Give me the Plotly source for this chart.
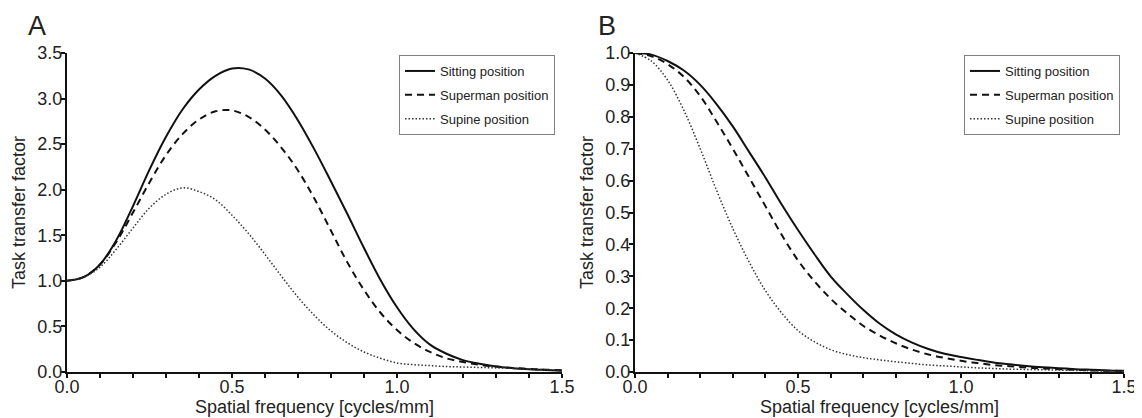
import plotly.graph_objects as go

# ---- data ----
freq = [0.00, 0.05, 0.10, 0.15, 0.20, 0.25, 0.30, 0.35, 0.40, 0.45,
        0.50, 0.55, 0.60, 0.65, 0.70, 0.75, 0.80, 0.85, 0.90, 0.95,
        1.00, 1.05, 1.10, 1.15, 1.20, 1.25, 1.30, 1.35, 1.40, 1.45, 1.50]

series_names = ["Sitting position", "Superman position", "Supine position"]

# Panel A
a_sitting = [1.00, 1.04, 1.18, 1.45, 1.82, 2.22, 2.58, 2.88, 3.10, 3.25,
             3.33, 3.32, 3.22, 3.03, 2.76, 2.44, 2.09, 1.73, 1.36, 1.01,
             0.71, 0.47, 0.30, 0.20, 0.13, 0.09, 0.06, 0.042, 0.03, 0.022, 0.015]
a_superman = [1.00, 1.04, 1.18, 1.43, 1.75, 2.08, 2.38, 2.61, 2.77, 2.86,
              2.87, 2.80, 2.66, 2.46, 2.21, 1.90, 1.55, 1.20, 0.90, 0.65,
              0.46, 0.32, 0.22, 0.15, 0.11, 0.08, 0.06, 0.045, 0.035, 0.025, 0.02]
a_supine = [1.00, 1.04, 1.15, 1.35, 1.58, 1.80, 1.95, 2.02, 1.98, 1.89,
            1.72, 1.52, 1.29, 1.05, 0.82, 0.62, 0.45, 0.32, 0.22, 0.15,
            0.10, 0.08, 0.07, 0.06, 0.055, 0.05, 0.045, 0.04, 0.03, 0.025, 0.02]

# Panel B
b_sitting = [1.00, 0.995, 0.975, 0.945, 0.90, 0.84, 0.77, 0.69, 0.61, 0.525,
             0.445, 0.37, 0.30, 0.245, 0.195, 0.152, 0.118, 0.092, 0.072, 0.057,
             0.047, 0.038, 0.030, 0.024, 0.019, 0.015, 0.012, 0.009, 0.007, 0.005, 0.004]
b_superman = [1.00, 0.99, 0.965, 0.925, 0.865, 0.785, 0.70, 0.61, 0.52, 0.43,
              0.35, 0.285, 0.23, 0.185, 0.145, 0.115, 0.09, 0.07, 0.055, 0.044,
              0.035, 0.028, 0.022, 0.018, 0.014, 0.011, 0.009, 0.007, 0.005, 0.004, 0.003]
b_supine = [1.00, 0.975, 0.915, 0.82, 0.70, 0.57, 0.45, 0.345, 0.255, 0.185,
            0.13, 0.095, 0.07, 0.055, 0.045, 0.038, 0.032, 0.027, 0.022, 0.019,
            0.016, 0.013, 0.011, 0.009, 0.008, 0.007, 0.006, 0.005, 0.004, 0.003, 0.003]

x_title = "Spatial frequency [cycles/mm]"
y_title = "Task transfer factor"
panel_labels = ["A", "B"]

# ---- styles ----
line_styles = [dict(color="#111111", width=2, dash="solid"),
               dict(color="#111111", width=2, dash="7px,5px"),
               dict(color="#333333", width=1.5, dash="1.5px,2px")]
FONT = "Liberation Sans, Arial, sans-serif"
TXT = "#222222"

fig = go.Figure()

for vals, name, st in zip([a_sitting, a_superman, a_supine], series_names, line_styles):
    fig.add_trace(go.Scatter(x=freq, y=vals, name=name, mode="lines", line=st,
                             line_shape="spline", xaxis="x", yaxis="y",
                             legend="legend", legendgroup="a" + name))
for vals, name, st in zip([b_sitting, b_superman, b_supine], series_names, line_styles):
    fig.add_trace(go.Scatter(x=freq, y=vals, name=name, mode="lines", line=st,
                             line_shape="spline", xaxis="x2", yaxis="y2",
                             legend="legend2", legendgroup="b" + name))

OFF = 8                                   # page body margin in the browser
W, H = 1142 - OFF, 418 - OFF
L, R, T, B = 67 - OFF, 1124 - OFF, 53 - OFF, 372 - OFF   # plot area edges in px
AW, AH = R - L, B - T


def px_x(px):
    """screen x (px) -> paper fraction"""
    return (px - OFF - L) / AW


def px_y(py):
    """screen y (px) -> paper fraction"""
    return (B - (py - OFF)) / AH


common_x = dict(range=[0, 1.5], dtick=0.5, tickformat=".1f", showgrid=False, zeroline=False,
                automargin=False,
                showline=True, linecolor="#111111", linewidth=2, ticks="outside", ticklen=4,
                tickwidth=1.5, tickcolor="#111111", ticklabelstandoff=-7,
                minor=dict(dtick=0.1, ticks="outside", ticklen=4, tickwidth=1.5, tickcolor="#111111"),
                tickfont=dict(family=FONT, size=18, color=TXT),
                title=dict(text=x_title, font=dict(family=FONT, size=18, color=TXT), standoff=3))
common_y = dict(showgrid=False, zeroline=False, tickformat=".1f", automargin=False,
                showline=True, linecolor="#111111", linewidth=2, ticks="outside", ticklen=4,
                tickwidth=1.5, tickcolor="#111111", ticklabelstandoff=-5,
                tickfont=dict(family=FONT, size=18, color=TXT),
                title=dict(text=y_title, font=dict(family=FONT, size=18, color=TXT), standoff=7))

legend_common = dict(bgcolor="white", bordercolor="#808080", borderwidth=1,
                     font=dict(family=FONT, size=13, color=TXT),
                     xanchor="left", yanchor="top", tracegroupgap=4, itemwidth=30)

fig.update_layout(
    template="none",
    width=W, height=H,
    margin=dict(l=L, r=W - R, t=T, b=H - B, pad=0, autoexpand=False),
    paper_bgcolor="white", plot_bgcolor="white",
    xaxis=dict(domain=[0, px_x(562)], anchor="y", **common_x),
    yaxis=dict(domain=[0, 1], anchor="x", range=[0, 3.5], dtick=0.5, **common_y),
    xaxis2=dict(domain=[px_x(635), 1], anchor="y2", **common_x),
    yaxis2=dict(domain=[0, 1], anchor="x2", range=[0, 1.0], dtick=0.1, **common_y),
    legend=dict(x=px_x(399), y=px_y(55), **legend_common),
    legend2=dict(x=px_x(964), y=px_y(55), **legend_common),
    annotations=[
        dict(text=panel_labels[0], x=px_x(37), y=px_y(8.5), xref="paper", yref="paper",
             showarrow=False, xanchor="center", yanchor="top",
             font=dict(family=FONT, size=27, color=TXT)),
        dict(text=panel_labels[1], x=px_x(607), y=px_y(8.5), xref="paper", yref="paper",
             showarrow=False, xanchor="center", yanchor="top",
             font=dict(family=FONT, size=27, color=TXT)),
    ],
)

fig.write_html("out.html")
